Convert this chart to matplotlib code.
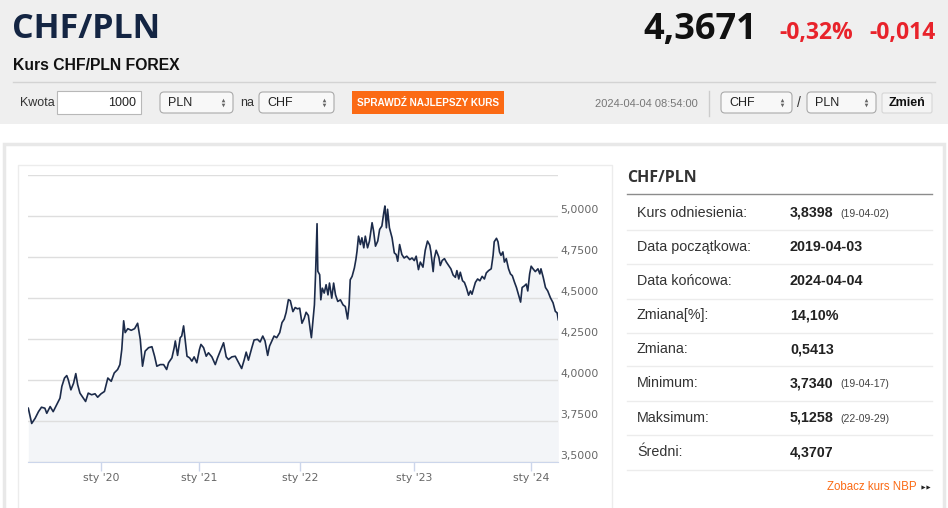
import matplotlib
matplotlib.use("Agg")
import matplotlib.pyplot as plt
from matplotlib.patches import Rectangle, FancyBboxPatch
from matplotlib.transforms import ScaledTranslation

plt.rcParams["font.family"] = ["Liberation Sans", "DejaVu Sans"]

# CHF/PLN quotes; x is the quote number on the ordinal axis
quote_idx = [
    0, 9, 18, 27, 35, 44, 49, 58, 66, 75, 84, 89, 96, 102, 106, 113, 120, 126, 131, 137,
    146, 152, 159, 168, 177, 184, 193, 202, 211, 220, 228, 237, 243, 248, 253, 257, 264, 273, 282, 290,
    297, 303, 310, 319, 328, 335, 341, 350,
    359, 367, 372, 381, 387, 390, 396, 403, 407, 412, 416, 421, 428, 434, 440, 447, 454, 458, 465, 472,
    478, 487, 496, 502, 509, 518, 525, 531, 540, 549, 558, 566, 573, 578, 584, 593, 599, 608, 615, 622,
    628, 635, 640, 646, 652, 659, 667, 673, 679, 684, 690, 695,
    702, 708, 714, 720, 726, 732, 737, 743, 748, 751, 755, 759, 762, 766, 768, 773, 776, 780, 785, 790,
    795, 799, 805, 810, 815, 821, 828, 835, 841, 847, 851, 854, 859, 865, 869, 872, 876, 881, 885, 890,
    894, 900, 905, 912, 916, 921, 927, 932, 938, 943, 946, 950, 953, 958, 965, 971, 976, 980, 985, 991,
    997, 1004, 1012, 1018, 1024, 1029, 1035,
    1040, 1047, 1053, 1059, 1065, 1068, 1074, 1077, 1082, 1089, 1093, 1098, 1104, 1109, 1115, 1121, 1127, 1133, 1137, 1142,
    1146, 1152, 1157, 1162, 1168, 1173, 1177, 1182, 1186, 1192, 1198, 1204, 1210, 1215, 1221, 1228, 1233, 1236, 1242, 1246,
    1250, 1254, 1259, 1263, 1268, 1274, 1279, 1284, 1290, 1295, 1300, 1306, 1310, 1316, 1321, 1325, 1330, 1334, 1339, 1345,
    1352, 1357, 1360, 1366, 1372, 1378, 1385, 1392, 1398, 1403, 1406,
]
rate = [
    3.828, 3.735, 3.766, 3.807, 3.834, 3.828, 3.797, 3.838, 3.807, 3.848, 3.889, 3.961, 4.012, 4.027, 4.002, 3.940, 3.980, 4.039, 3.971, 3.920,
    3.889, 3.869, 3.920, 3.910, 3.916, 3.895, 3.916, 3.930, 4.012, 3.992, 4.043, 4.064, 4.094, 4.186, 4.361, 4.289, 4.313, 4.303, 4.313, 4.346,
    4.248, 4.084, 4.176, 4.197, 4.203, 4.145, 4.084, 4.094,
    4.094, 4.064, 4.105, 4.135, 4.197, 4.238, 4.150, 4.258, 4.268, 4.330, 4.248, 4.145, 4.135, 4.115, 4.141, 4.105, 4.186, 4.217, 4.197, 4.145,
    4.166, 4.141, 4.094, 4.135, 4.176, 4.227, 4.141, 4.125, 4.141, 4.145, 4.105, 4.070, 4.125, 4.170, 4.121, 4.197, 4.244, 4.248, 4.232, 4.268,
    4.238, 4.150, 4.207, 4.238, 4.268, 4.258, 4.289, 4.350, 4.371, 4.412, 4.490, 4.484,
    4.417, 4.442, 4.434, 4.438, 4.346, 4.376, 4.413, 4.393, 4.305, 4.258, 4.356, 4.458, 4.642, 4.953, 4.663, 4.642, 4.489, 4.560, 4.530, 4.581,
    4.519, 4.591, 4.499, 4.591, 4.519, 4.479, 4.489, 4.458, 4.448, 4.372, 4.458, 4.611, 4.632, 4.683, 4.734, 4.785, 4.877, 4.826, 4.867, 4.806,
    4.877, 4.806, 4.847, 4.959, 4.908, 4.816, 4.847, 4.918, 4.939, 5.020, 5.061, 4.928, 5.041, 4.928, 4.867, 4.775, 4.765, 4.724, 4.826, 4.765,
    4.744, 4.755, 4.734, 4.744, 4.728, 4.755, 4.673,
    4.719, 4.688, 4.791, 4.847, 4.822, 4.781, 4.661, 4.740, 4.791, 4.750, 4.698, 4.729, 4.740, 4.719, 4.698, 4.678, 4.640, 4.626, 4.667, 4.616,
    4.657, 4.605, 4.595, 4.564, 4.517, 4.543, 4.523, 4.564, 4.595, 4.616, 4.605, 4.632, 4.616, 4.653, 4.667, 4.678, 4.760, 4.843, 4.864, 4.843,
    4.781, 4.760, 4.781, 4.719, 4.740, 4.678, 4.647, 4.636, 4.595, 4.564, 4.523, 4.475, 4.564, 4.574, 4.585, 4.543, 4.647, 4.694, 4.678, 4.661,
    4.678, 4.647, 4.678, 4.626, 4.564, 4.543, 4.502, 4.471, 4.419, 4.409, 4.367,
]

# first quote of each year
year_idx = [193, 454, 720, 1023, 1333]
year_labels = ["sty '20", "sty '21", "sty '22", "sty '23", "sty '24"]
y_ticks = [3.5, 3.75, 4.0, 4.25, 4.5, 4.75, 5.0, 5.25]

pair = "CHF/PLN"
last_rate = "4,3671"
change_pct = "-0,32%"
change_abs = "-0,014"
quote_time = "2024-04-04 08:54:00"

stat_labels = ["Kurs odniesienia:", "Data początkowa:", "Data końcowa:", "Zmiana[%]:",
               "Zmiana:", "Minimum:", "Maksimum:", "Średni:"]
stat_values = ["3,8398", "2019-04-03", "2024-04-04", "14,10%", "0,5413", "3,7340", "5,1258", "4,3707"]
stat_dates = ["(19-04-02)", "", "", "", "", "(19-04-17)", "(22-09-29)", ""]

W, H = 948, 508
fig = plt.figure(figsize=(W / 100, H / 100), dpi=100)
fig.patch.set_facecolor("white")

# page layer in pixel units
bg = fig.add_axes([0, 0, 1, 1])
bg.set_xlim(0, W)
bg.set_ylim(H, 0)
bg.axis("off")

bg.add_patch(Rectangle((0, 0), W, 124, fc="#efefef", ec="none"))
bg.add_patch(Rectangle((4, 144), 940, 380, fc="white", ec="#e8e8e8", lw=2.5))
bg.add_patch(Rectangle((18, 165), 594, 360, fc="white", ec="#ececec", lw=1))

bg.text(12, 29, pair, fontsize=24.5, color="#142543", fontweight="bold",
        family="Open Sans", va="center", ha="left")
bg.text(13, 66, "Kurs CHF/PLN FOREX", fontsize=11.3, fontweight="bold", color="#111", va="center")
bg.text(757, 30, last_rate, fontsize=26, fontweight="bold", family="Open Sans",
        color="#111", ha="right", va="center")
bg.text(853, 33, change_pct, fontsize=16.5, fontweight="bold", family="Open Sans",
        color="#e8232b", ha="right", va="center")
bg.text(936, 33, change_abs, fontsize=16.5, fontweight="bold", family="Open Sans",
        color="#e8232b", ha="right", va="center")
bg.plot([13, 935], [82, 82], color="#d3d3d3", lw=1)

# form row
bg.text(20, 103, "Kwota", fontsize=9, color="#333", va="center")
bg.add_patch(Rectangle((57, 91), 84, 23, fc="white", ec="#b8b8b8", lw=0.8))
bg.text(136, 103, "1000", fontsize=9, color="#222", va="center", ha="right")


def select_box(x0, x1, label):
    bg.add_patch(FancyBboxPatch((x0, 92), x1 - x0, 21, boxstyle="round,pad=0,rounding_size=4",
                                fc="#f8f8f8", ec="#aaaaaa", lw=0.8))
    bg.text(x0 + 8, 102.5, label, fontsize=9, color="#222", va="center")
    bg.plot([x1 - 10], [99.8], marker="^", ms=2.6, color="#666", mec="none")
    bg.plot([x1 - 10], [105.4], marker="v", ms=2.6, color="#666", mec="none")


select_box(160, 233, "PLN")
bg.text(240, 103, "na", fontsize=9, color="#333", va="center")
select_box(259, 334, "CHF")
bg.add_patch(Rectangle((352, 91), 152, 23, fc="#fb6a14", ec="none"))
bg.text(428, 102.5, "SPRAWDŹ NAJLEPSZY KURS", fontsize=7.2, fontweight="bold",
        color="white", ha="center", va="center")
bg.text(698, 104, quote_time, fontsize=8, color="#777", ha="right", va="center")
bg.plot([709, 709], [91, 116], color="#cccccc", lw=1)
select_box(721, 792, "CHF")
bg.text(799, 103, "/", fontsize=10, color="#333", va="center", ha="center")
select_box(807, 876, "PLN")
bg.add_patch(FancyBboxPatch((882, 93), 50, 20, boxstyle="round,pad=0,rounding_size=2",
                            fc="#f4f4f4", ec="#d6d6d6", lw=0.8))
bg.text(907, 103, "Zmień", fontsize=9, fontweight="bold", color="#111", ha="center", va="center")

# stats table
bg.text(627, 178, pair, fontsize=11.5, fontweight="bold", family="Open Sans",
        color="#333", va="center")
bg.plot([627, 932], [194, 194], color="#8c8c8c", lw=1)
row_y = [212.7, 246.7, 281.3, 315.3, 349.0, 383.3, 418.0, 452.5]
for y, lab, val, dt in zip(row_y, stat_labels, stat_values, stat_dates):
    bg.text(637, y, lab, fontsize=10.3, color="#333", va="center")
    bg.text(790, y, val, fontsize=10.3, fontweight="bold", color="#222", va="center")
    if dt:
        bg.text(840, y + 1, dt, fontsize=7.5, color="#444", va="center")
    bg.plot([627, 932], [y + 17.3, y + 17.3], color="#ececec", lw=1)
bg.text(917, 487, "Zobacz kurs NBP", fontsize=8.3, color="#fb6a14", ha="right", va="center")
bg.plot([923.5, 928.5], [487, 487], ls="none", marker=">", ms=3, color="#222", mec="none")

# chart
ax = fig.add_axes([28.3 / W, (H - 462) / H, 530 / W, 287 / H])
ax.set_facecolor("none")
ax.fill_between(quote_idx, rate, y_ticks[0], color="#f3f5f8", lw=0, zorder=1)
ax.plot(quote_idx, rate, color="#1c2b4a", lw=1.2, zorder=3)
ax.set_xlim(quote_idx[0], quote_idx[-1])
ax.set_ylim(y_ticks[0], y_ticks[-1])
ax.set_yticks(y_ticks)
ax.set_axisbelow("line")
ax.grid(axis="y", color="#dedede", lw=1)
ax.tick_params(axis="y", left=False, labelleft=False)
ax.set_xticks(year_idx, year_labels, family="DejaVu Sans")
ax.tick_params(axis="x", length=6.5, width=1, color="#ccd6eb", labelcolor="#666666",
               labelsize=7.8, pad=1.5)
for side in ["top", "left", "right"]:
    ax.spines[side].set_visible(False)
ax.spines["bottom"].set_color("#ccd6eb")
ax.spines["bottom"].set_zorder(4)

lab_tr = ax.get_yaxis_transform() + ScaledTranslation(2 / 100, 6 / 100, fig.dpi_scale_trans)
for v in y_ticks[:-1]:
    ax.text(1.0, v, f"{v:.4f}".replace(".", ","), transform=lab_tr, fontsize=7.8,
            family="DejaVu Sans", color="#666666", va="center", ha="left")

fig.savefig("out.png", dpi=100, facecolor=fig.get_facecolor())
